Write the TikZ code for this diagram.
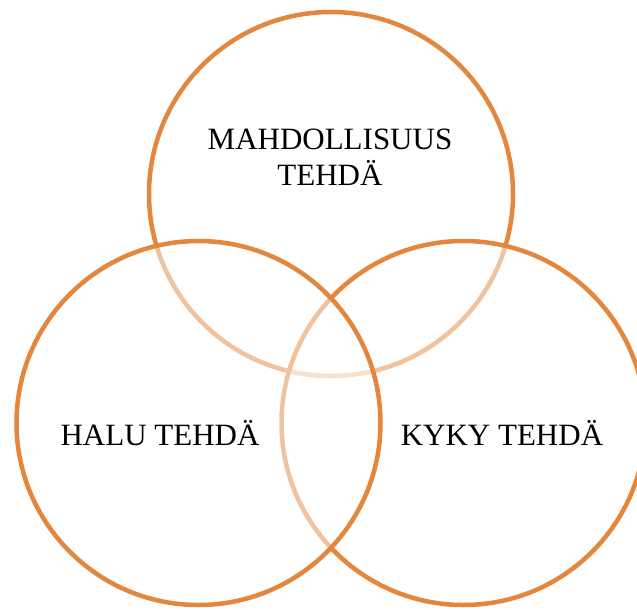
\documentclass[tikz,border=0pt]{standalone}
\usepackage{fontspec}
\setmainfont{Liberation Serif}
\definecolor{venncol}{HTML}{E2873D}
\tikzset{
  venn/.style={draw=venncol, line width=4.5pt},
  vennfill/.style={fill=white, fill opacity=0.5},
  venntext/.style={font=\fontsize{31}{36}\selectfont, align=center, anchor=base, inner sep=0pt}
}
\begin{document}
\begin{tikzpicture}[x=1pt, y=-1pt]
			\useasboundingbox (0,0) rectangle (637,610);
			\clip (0,0) rectangle (637,610);
			% top, right, left
			\fill[vennfill] (331,194) circle (182pt);
			\draw[venn] (331,194) circle (182pt);
			\fill[vennfill] (463.5,423) circle (182pt);
			\draw[venn] (463.5,423) circle (182pt);
			\fill[vennfill] (198.5,423) circle (182pt);
			\draw[venn] (198.5,423) circle (182pt);
			\node[venntext] (mahd) at (330,185) {MAHDOLLISUUS\\TEHDÄ};
			\node[venntext] (halu) at (160,445) {HALU TEHDÄ};
			\node[venntext] (kyky) at (502,445) {KYKY TEHDÄ};
		\end{tikzpicture}
\end{document}
